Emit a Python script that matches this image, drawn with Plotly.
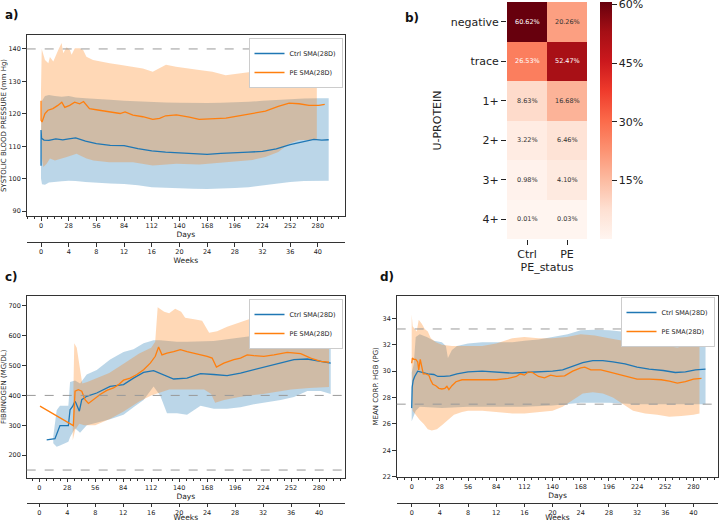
import plotly.graph_objects as go

BLUE = "#1f77b4"
ORANGE = "#ff7f0e"
BLUE_FILL = "rgba(31,119,180,0.3)"
ORANGE_FILL = "rgba(255,127,14,0.3)"

# ---------------- Panel a: systolic blood pressure ----------------
a_ctrl_days = [0, 0, 0.5, 3, 8, 15, 22, 28, 35, 45, 56, 70, 84, 98, 112, 126, 140, 154, 168, 182, 196, 210, 224, 238, 252, 266, 276, 284, 291]
a_ctrl_mean = [104, 115, 112.5, 111.9, 111.8, 112.3, 112.0, 112.3, 112.6, 111.6, 110.8, 110.3, 110.2, 109.3, 108.6, 108.2, 108.0, 107.7, 107.5, 107.8, 108.1, 108.2, 108.4, 109.2, 110.5, 111.5, 112.1, 111.9, 112.0]
a_ctrl_band_days = [0, 1, 4, 8, 14, 21, 28, 35, 45, 56, 70, 84, 98, 112, 126, 140, 154, 168, 182, 196, 210, 224, 238, 252, 266, 280, 291]
a_ctrl_upper = [115, 124, 125.5, 125.8, 125.5, 125.3, 125.5, 125.0, 124.8, 124.5, 124.3, 124.0, 123.8, 123.5, 123.5, 123.4, 123.3, 123.3, 123.4, 123.5, 123.7, 124.0, 124.3, 124.5, 124.7, 124.8, 124.8]
a_ctrl_lower = [100, 98.3, 98.1, 98.8, 99.0, 99.2, 99.4, 99.3, 99.0, 98.7, 98.5, 98.4, 98.0, 97.4, 97.1, 97.0, 96.9, 96.8, 96.9, 97.1, 97.4, 97.9, 98.4, 99.0, 99.3, 99.4, 99.4]

a_pe_days = [0, 0, 1, 4, 7, 12, 17, 21, 24, 29, 34, 39, 43, 46, 49, 59, 69, 80, 85, 93, 103, 113, 120, 126, 137, 143, 150, 160, 173, 187, 200, 214, 227, 240, 251, 261, 271, 281, 287]
a_pe_mean = [124, 118, 117.5, 120.1, 121.1, 121.6, 122.6, 123.6, 122.0, 122.6, 123.6, 123.1, 123.8, 122.6, 121.6, 121.1, 120.6, 120.1, 120.6, 119.6, 119.1, 118.3, 118.6, 119.4, 119.7, 119.4, 119.0, 118.3, 118.5, 118.7, 119.4, 120.1, 120.8, 122.3, 123.3, 123.1, 122.6, 122.6, 122.9]
a_pe_up_days = [0, 0.7, 4, 7.4, 9, 12.4, 17.4, 20.8, 22.5, 25.8, 29.2, 30.9, 34.2, 39.2, 42.6, 45.9, 52.6, 59.4, 69.4, 79.5, 92.9, 103, 113, 119.7, 126.4, 136.5, 146.5, 160, 173.4, 186.8, 200.2, 213.6, 227, 240.4, 250.5, 260.6, 270.6, 279]
a_pe_upper = [127.8, 140, 136.6, 135.6, 137.5, 136.1, 139.7, 141.8, 138.7, 140.5, 139.7, 138.2, 140.2, 140.2, 139.7, 137.6, 136.6, 136.1, 135.6, 135.1, 134.5, 134.0, 133.0, 134.0, 135.1, 134.5, 134.0, 133.5, 133.0, 131.9, 132.4, 133.0, 134.0, 135.1, 136.1, 136.6, 136.1, 135.1]
a_pe_low_days = [0, 0.7, 2.3, 5.7, 9, 14, 26, 36, 39, 46, 53, 69, 93, 113, 137, 160, 187, 214, 227, 240, 251, 261, 279]
a_pe_lower = [117, 106.7, 103.6, 104.6, 106.2, 105.6, 106.7, 107.7, 107.2, 106.2, 105.6, 105.1, 105.1, 104.1, 104.6, 104.4, 105.1, 105.8, 106.7, 108.2, 110.8, 111.9, 111.9]
a_ref_lines = [140]

# ---------------- Panel b: U-PROTEIN heatmap ----------------
b_status = ["Ctrl", "PE"]
b_levels = ["negative", "trace", "1+", "2+", "3+", "4+"]
b_ctrl_pct = [60.62, 26.53, 8.63, 3.22, 0.98, 0.01]
b_pe_pct = [20.26, 52.47, 16.68, 6.46, 4.10, 0.03]
b_cbar_ticks = [15, 30, 45, 60]
b_cbar_labels = ["15%", "30%", "45%", "60%"]

# ---------------- Panel c: fibrinogen ----------------
c_ctrl_days = [7.4, 15.7, 20.7, 29.1, 30.8, 33.5, 35.8, 36.8, 40.1, 42.5, 47.5, 57.5, 70.9, 84.3, 94.3, 104.4, 114.4, 124.5, 134.5, 147.9, 161.4, 174.6, 188, 201.4, 214.8, 228.2, 241.6, 254.9, 268.3, 281.7, 291.7]
c_ctrl_mean = [251, 255, 299, 299, 352, 364, 380, 374, 347, 386, 397, 408, 430, 436, 458, 477, 483, 470, 455, 458, 473, 470, 466, 475, 486, 497, 508, 520, 522, 514, 508]
c_ctrl_band_days = [14, 17.4, 20.7, 29.1, 30.8, 35.8, 40.8, 47.5, 57.5, 70.9, 84.3, 94.3, 104.4, 114.4, 121, 127.8, 137.8, 147.9, 161.4, 174.6, 188, 201.4, 214.8, 228.2, 241.6, 254.9, 268.3, 281.7, 291.7]
c_ctrl_upper = [262, 350, 365, 365, 445, 450, 440, 470, 485, 520, 545, 555, 575, 585, 585, 583, 580, 580, 580, 582, 588, 595, 600, 605, 612, 625, 625, 615, 610]
c_ctrl_lower = [240, 228, 232, 245, 260, 290, 275, 300, 310, 320, 335, 360, 385, 430, 400, 340, 340, 335, 365, 355, 355, 360, 370, 378, 385, 395, 415, 415, 405]

c_pe_days = [0.7, 34.1, 35.8, 39.1, 42.5, 45.8, 49.2, 54.2, 60.9, 67.6, 74.3, 79.3, 84.3, 91, 97.7, 104.4, 111.1, 116.1, 119.4, 122.8, 127.8, 134.5, 141.2, 147.9, 154.6, 161.4, 168, 173, 177.3, 184.7, 194.7, 201.4, 208.1, 214.8, 224.8, 234.9, 248.2, 261.6, 271.7, 281.7, 290]
c_pe_mean = [364, 299, 414, 419, 414, 386, 373, 386, 403, 417, 425, 436, 451, 458, 470, 486, 508, 531, 562, 536, 542, 547, 553, 547, 542, 536, 531, 525, 495, 508, 520, 525, 536, 533, 531, 536, 544, 540, 525, 514, 511]
c_pe_up_days = [33.5, 35, 37.5, 40, 43, 48, 56, 70, 84, 100, 112, 116, 118.5, 125, 130, 136, 142, 146, 155, 163, 170, 178, 188, 200, 212, 224, 240, 252, 265, 280, 290]
c_pe_upper = [300, 575, 560, 500, 440, 445, 455, 475, 505, 540, 560, 580, 695, 680, 675, 690, 680, 660, 655, 650, 610, 615, 630, 645, 658, 650, 645, 640, 630, 612, 605]
c_pe_low_days = [33.5, 36, 40, 45, 56, 70, 84, 100, 112, 130, 150, 165, 172, 176, 185, 200, 224, 252, 270, 290]
c_pe_lower = [250, 285, 305, 300, 300, 320, 345, 380, 400, 420, 420, 420, 405, 375, 385, 395, 405, 420, 425, 428]
c_ref_lines = [400, 150]

# ---------------- Panel d: mean corpuscular hemoglobin ----------------
d_ctrl_days = [0, 0.5, 1.5, 3, 6, 10, 16, 22, 26, 32, 38, 45, 56, 70, 84, 100, 112, 126, 140, 150, 160, 170, 180, 190, 200, 212, 224, 236, 250, 262, 272, 282, 292]
d_ctrl_mean = [27.2, 28.8, 29.3, 29.6, 30.0, 29.9, 29.8, 29.75, 29.6, 29.6, 29.65, 29.8, 29.95, 30.0, 29.95, 29.85, 29.9, 29.95, 30.0, 30.1, 30.35, 30.65, 30.8, 30.8, 30.7, 30.55, 30.3, 30.15, 30.05, 29.9, 29.95, 30.1, 30.15]
d_ctrl_up_days = [0, 2, 4, 8, 15, 22, 30, 34, 36, 40, 45, 56, 70, 84, 100, 112, 126, 140, 155, 168, 182, 196, 210, 224, 238, 250, 262, 272, 282, 292]
d_ctrl_upper = [29.9, 30.5, 32.6, 32.8, 32.6, 32.3, 32.2, 31.9, 31.0, 31.6, 31.9, 32.1, 32.2, 32.2, 32.2, 32.3, 32.4, 32.6, 32.8, 33.1, 33.15, 33.1, 33.0, 32.9, 32.7, 32.3, 31.9, 32.3, 32.6, 32.7]
d_ctrl_low_days = [0, 2, 4, 8, 15, 30, 56, 84, 112, 140, 168, 196, 224, 252, 280, 292]
d_ctrl_lower = [26.2, 26.6, 27.0, 27.3, 27.3, 27.2, 27.3, 27.3, 27.3, 27.4, 27.6, 27.6, 27.5, 27.5, 27.5, 27.5]

d_pe_days = [0, 0.7, 2, 4, 6, 7, 8.5, 10, 11.5, 14, 17, 19, 21, 24, 27, 30, 33, 35, 37, 40, 44, 50, 56, 70, 84, 96, 104, 108, 112, 116, 120, 126, 132, 138, 144, 152, 160, 168, 172, 178, 188, 196, 206, 216, 224, 236, 248, 256, 264, 272, 280, 288]
d_pe_mean = [30.6, 31.0, 30.9, 30.9, 30.7, 30.1, 30.9, 30.3, 29.8, 29.8, 29.7, 29.3, 29.0, 28.9, 28.7, 28.65, 28.7, 28.85, 28.6, 28.9, 29.2, 29.35, 29.35, 29.35, 29.35, 29.45, 29.6, 29.8, 29.7, 29.95, 29.9, 29.6, 29.5, 29.7, 29.6, 29.65, 30.0, 30.25, 30.3, 30.1, 30.1, 29.95, 29.75, 29.6, 29.4, 29.4, 29.35, 29.25, 29.1, 29.2, 29.4, 29.45]
d_pe_up_days = [0, 1, 3, 5, 7, 10, 13, 16, 19, 24, 30, 40, 56, 70, 84, 100, 112, 126, 140, 154, 168, 182, 196, 210, 224, 238, 252, 264, 276, 286]
d_pe_upper = [34.3, 33.4, 33.2, 33.0, 33.9, 33.6, 33.2, 33.0, 32.5, 32.2, 32.0, 31.9, 31.9, 31.9, 32.1, 32.5, 32.6, 32.5, 32.5, 32.6, 32.8, 32.7, 32.5, 32.3, 32.2, 32.1, 31.9, 31.8, 32.0, 32.1]
d_pe_low_days = [0, 1, 4, 8, 12, 16, 20, 25, 30, 35, 42, 50, 56, 70, 84, 100, 112, 126, 140, 150, 160, 170, 180, 190, 200, 210, 220, 232, 244, 256, 268, 280, 286]
d_pe_lower = [30.3, 27.0, 26.7, 26.3, 26.0, 25.6, 25.5, 25.6, 25.9, 26.2, 26.7, 26.9, 27.0, 27.0, 26.9, 26.8, 26.8, 26.9, 27.0, 27.3, 27.8, 28.3, 28.4, 28.3, 28.0, 27.5, 27.0, 26.8, 26.7, 26.55, 26.6, 26.7, 26.8]
d_ref_lines = [33.2, 27.5]

# ---------------- figure ----------------
W, H = 720, 522
def px(x):
    return x / W
def py(y):
    return 1 - y / H

fig = go.Figure()

def band(xu, yu, xl, yl, color, xa, ya):
    fig.add_trace(go.Scatter(x=list(xu) + list(xl)[::-1], y=list(yu) + list(yl)[::-1],
                             fill="toself", fillcolor=color, mode="lines", line=dict(width=0),
                             hoverinfo="skip", showlegend=False, xaxis=xa, yaxis=ya))

def line(x, y, color, name, xa, ya, leg):
    fig.add_trace(go.Scatter(x=x, y=y, mode="lines", line=dict(color=color, width=1.3),
                             name=name, xaxis=xa, yaxis=ya, legend=leg))

# panel a
band(a_ctrl_band_days, a_ctrl_upper, a_ctrl_band_days, a_ctrl_lower, BLUE_FILL, "x", "y")
band(a_pe_up_days, a_pe_upper, a_pe_low_days, a_pe_lower, ORANGE_FILL, "x", "y")
line(a_ctrl_days, a_ctrl_mean, BLUE, "Ctrl SMA(28D)", "x", "y", "legend")
line(a_pe_days, a_pe_mean, ORANGE, "PE SMA(28D)", "x", "y", "legend")
fig.add_trace(go.Scatter(x=[], y=[], xaxis="x2", yaxis="y", showlegend=False))

# panel c
band(c_ctrl_band_days, c_ctrl_upper, c_ctrl_band_days, c_ctrl_lower, BLUE_FILL, "x3", "y3")
band(c_pe_up_days, c_pe_upper, c_pe_low_days, c_pe_lower, ORANGE_FILL, "x3", "y3")
line(c_ctrl_days, c_ctrl_mean, BLUE, "Ctrl SMA(28D)", "x3", "y3", "legend2")
line(c_pe_days, c_pe_mean, ORANGE, "PE SMA(28D)", "x3", "y3", "legend2")
fig.add_trace(go.Scatter(x=[], y=[], xaxis="x4", yaxis="y3", showlegend=False))

# panel d
band(d_ctrl_up_days, d_ctrl_upper, d_ctrl_low_days, d_ctrl_lower, BLUE_FILL, "x5", "y5")
band(d_pe_up_days, d_pe_upper, d_pe_low_days, d_pe_lower, ORANGE_FILL, "x5", "y5")
line(d_ctrl_days, d_ctrl_mean, BLUE, "Ctrl SMA(28D)", "x5", "y5", "legend3")
line(d_pe_days, d_pe_mean, ORANGE, "PE SMA(28D)", "x5", "y5", "legend3")
fig.add_trace(go.Scatter(x=[], y=[], xaxis="x6", yaxis="y5", showlegend=False))

# panel b heatmap
reds = [[0.0, "rgb(255,245,240)"], [0.125, "rgb(254,224,210)"], [0.25, "rgb(252,187,161)"],
        [0.375, "rgb(252,146,114)"], [0.5, "rgb(251,106,74)"], [0.625, "rgb(239,59,44)"],
        [0.75, "rgb(203,24,29)"], [0.875, "rgb(165,15,21)"], [1.0, "rgb(103,0,13)"]]
z = [[c, p] for c, p in zip(b_ctrl_pct, b_pe_pct)]
zmin = min(b_ctrl_pct + b_pe_pct)
zmax = max(b_ctrl_pct + b_pe_pct)
fig.add_trace(go.Heatmap(z=z, x=b_status, y=b_levels, colorscale=reds, zmin=zmin, zmax=zmax,
                         xaxis="x7", yaxis="y7", showscale=True, hoverinfo="skip",
                         colorbar=dict(x=px(600), xanchor="left", y=py(2), yanchor="top",
                                       len=237 / H, lenmode="fraction", thickness=12,
                                       thicknessmode="pixels", outlinewidth=0, ticks="outside",
                                       ticklen=5, tickcolor="#222", tickmode="array",
                                       tickvals=b_cbar_ticks, ticktext=b_cbar_labels,
                                       ticklabeloverflow="allow",
                                       tickfont=dict(size=11, color="#222"),
                                       xpad=0, ypad=0)))

FONT = "DejaVu Sans"
axc = dict(showline=True, linecolor="#333", linewidth=1, mirror=True, ticks="outside",
           ticklen=3.5, tickwidth=1, tickcolor="#333", tickfont=dict(size=6.5, color="#222"),
           showgrid=False, zeroline=False)

def days_axis(dom, yanchor, rng):
    d = dict(axc)
    d.update(domain=dom, anchor=yanchor, range=rng, dtick=28, tick0=0,
             minor=dict(dtick=7, tick0=0, ticks="outside", ticklen=2, tickcolor="#333", showgrid=False),
             title=dict(text="Days", font=dict(size=7.5, color="#222"), standoff=1))
    return d

def weeks_axis(over, pos, rng):
    return dict(overlaying=over, anchor="free", position=pos, side="bottom",
                range=[rng[0] / 7, rng[1] / 7], dtick=4, tick0=0, showline=True, linecolor="#333",
                linewidth=1, ticks="outside", ticklen=3.5, tickcolor="#333",
                tickfont=dict(size=6.5, color="#222"), showgrid=False, zeroline=False,
                title=dict(text="Weeks", font=dict(size=7.5, color="#222"), standoff=1.5))

def val_axis(dom, xanchor, rng, dtick, title):
    d = dict(axc)
    d.update(domain=dom, anchor=xanchor, range=rng, dtick=dtick,
             title=dict(text=title, font=dict(size=7, color="#222"), standoff=3))
    return d

left_dom = [px(26.7), px(345)]
right_dom = [px(396.7), px(718.3)]
a_rng = [-14.5, 307.5]
c_rng = [-12.6, 306]
d_rng = [-14.9, 304.7]

legend_style = dict(bgcolor="white", bordercolor="#ccc", borderwidth=1,
                    font=dict(size=6.5, color="#222", family=FONT), xanchor="right", yanchor="top",
                    tracegroupgap=0, itemwidth=30)

annotations = []
for i, lvl in enumerate(b_levels):
    for status, vals in ((b_status[0], b_ctrl_pct), (b_status[1], b_pe_pct)):
        v = vals[i]
        annotations.append(dict(x=status, y=lvl, xref="x7", yref="y7", text=f"{v:.2f}%",
                                showarrow=False, font=dict(size=6.5, color="white" if v > 24 else "#333")))
for txt, x, y in (("a)", 3, 15), ("b)", 403, 18), ("c)", 3, 277), ("d)", 378, 277)):
    annotations.append(dict(x=px(x), y=py(y), xref="paper", yref="paper", text=f"<b>{txt}</b>",
                            showarrow=False, xanchor="left", yanchor="middle",
                            font=dict(size=12, color="#111")))

shapes = []
for v in a_ref_lines:
    shapes.append(dict(type="line", xref="x domain", yref="y", x0=0, x1=1, y0=v, y1=v,
                       line=dict(color="#999", width=1, dash="dash")))
for v in c_ref_lines:
    shapes.append(dict(type="line", xref="x3 domain", yref="y3", x0=0, x1=1, y0=v, y1=v,
                       line=dict(color="#999", width=1, dash="dash")))
for v in d_ref_lines:
    shapes.append(dict(type="line", xref="x5 domain", yref="y5", x0=0, x1=1, y0=v, y1=v,
                       line=dict(color="#999", width=1, dash="dash")))

fig.update_layout(
    width=W, height=H, margin=dict(l=0, r=0, t=0, b=0, autoexpand=False),
    paper_bgcolor="white", plot_bgcolor="white",
    font=dict(family=FONT, color="#222"),
    showlegend=True,
    xaxis=days_axis(left_dom, "y", a_rng),
    xaxis2=weeks_axis("x", py(242), a_rng),
    yaxis=val_axis([py(216), py(35)], "x", [88.5, 144.3], 10, "SYSTOLIC BLOOD PRESSURE (mm Hg)"),
    xaxis3=days_axis(left_dom, "y3", c_rng),
    xaxis4=weeks_axis("x3", py(502.7), c_rng),
    yaxis3=val_axis([py(477.5), py(296)], "x3", [125, 733], 100, "FIBRINOGEN (MG/DL)"),
    xaxis5=days_axis(right_dom, "y5", d_rng),
    xaxis6=weeks_axis("x5", py(502.7), d_rng),
    yaxis5=val_axis([py(476.7), py(296)], "x5", [22, 35.7], 2, "MEAN CORP. HGB (PG)"),
    xaxis7=dict(domain=[px(507), px(587)], anchor="y7", showline=False, showgrid=False,
                zeroline=False, ticks="outside", ticklen=5, tickcolor="#222",
                tickfont=dict(size=11, color="#222"),
                title=dict(text="PE_status", font=dict(size=11, color="#222"), standoff=1)),
    yaxis7=dict(domain=[py(239), py(2)], anchor="x7", autorange="reversed", showline=False,
                showgrid=False, zeroline=False, ticks="outside", ticklen=5, tickcolor="#222",
                tickfont=dict(size=11, color="#222"),
                title=dict(text="U-PROTEIN", font=dict(size=11, color="#222"), standoff=6)),
    legend=dict(legend_style, x=px(342.5), y=py(38)),
    legend2=dict(legend_style, x=px(342.5), y=py(299)),
    legend3=dict(legend_style, x=px(714.5), y=py(297)),
    annotations=annotations,
    shapes=shapes,
)

fig.write_html("out.html", config={"displayModeBar": False},
               post_script="document.body.style.margin='0';document.body.style.padding='0';")
